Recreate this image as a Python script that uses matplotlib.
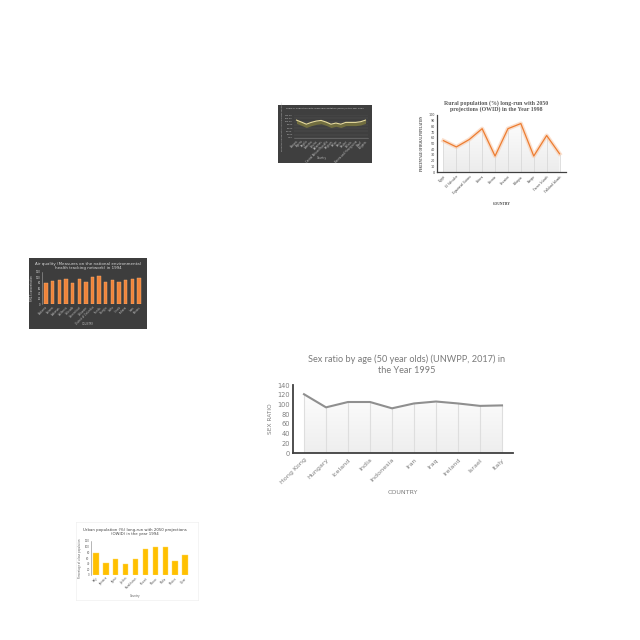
import matplotlib.pyplot as plt
import numpy as np
from matplotlib.colors import LinearSegmentedColormap

# ---- data ----
sex_countries = ['Hong Kong', 'Hungary', 'Iceland', 'India', 'Indonesia',
                 'Iran', 'Iraq', 'Ireland', 'Israel', 'Italy']
sex_ratio = [121, 94, 105, 105, 92, 102, 106, 102, 97, 98]

rural_countries = ['Egypt', 'El Salvador', 'Equatorial Guinea', 'Eritrea', 'Estonia',
                   'Eswatini', 'Ethiopia', 'Europe', 'Faeroe Islands', 'Falkland Islands']
rural_pct = [55, 44, 57, 76, 28, 76, 85, 28, 64, 32]

dark_countries = ['Albania', 'Algeria', 'Angola', 'Armenia', 'Austria', 'Bahamas',
                  'Central African Republic', 'Belgium', 'Belize', 'Benin', 'Bhutan',
                  'Bolivia', 'Bosnia and Herzegovina', 'Brazil', 'Bulgaria']
dark_values = [109, 97, 84, 95, 103, 107, 97, 84, 91, 84, 95, 95, 95, 99, 109]

air_states = ['Alabama', 'Arizona', 'Arkansas', 'California', 'Colorado', 'Connecticut',
              'Delaware', 'District of Columbia', 'Florida', 'Georgia', 'Idaho',
              'Illinois', 'Indiana', 'Iowa', 'Kansas']
air_values = [79, 87, 89, 95, 79, 93, 83, 101, 104, 83, 89, 83, 89, 92, 98]

urban_countries = ['Italy', 'Jamaica', 'Japan', 'Jordan', 'Kazakhstan', 'Kuwait',
                   'Macao', 'Malta', 'Mexico', 'Qatar']
urban_pct = [76, 41, 55, 38, 58, 92, 99, 99, 50, 71]

fig = plt.figure(figsize=(6.4, 6.4), dpi=100)
fig.patch.set_facecolor('white')


def rect(x0, y0, x1, y1):
    # pixel box -> figure fraction
    return [x0 / 640, 1 - y1 / 640, (x1 - x0) / 640, (y1 - y0) / 640]


def px(x, y):
    return x / 640, 1 - y / 640


def gradient_under(ax, x, y, ymax, top='#ffffff', bottom='#e8e8e8'):
    grad = np.linspace(0, 1, 100).reshape(-1, 1)
    cm = LinearSegmentedColormap.from_list('g', [top, bottom])
    im = ax.imshow(grad, aspect='auto', cmap=cm, extent=[-0.5, len(x) - 0.5, 0, ymax],
                   origin='upper', zorder=0)
    poly = ax.fill_between(x, 0, y, color='none')
    im.set_clip_path(poly.get_paths()[0], transform=ax.transData)


# ---- 1: sex ratio line chart ----
ax1 = fig.add_axes(rect(293, 385, 513, 453))
xs = np.arange(len(sex_countries))
gradient_under(ax1, xs, sex_ratio, 140, bottom='#eeeeee')
ax1.vlines(xs, 0, sex_ratio, color='#dedede', lw=0.8, zorder=1)
ax1.plot(xs, sex_ratio, color='#8f8f8f', lw=1.5, zorder=3)
ax1.set_xlim(-0.5, 9.5)
ax1.set_ylim(0, 140)
ax1.set_yticks(range(0, 141, 20))
ax1.tick_params(axis='y', length=0, labelsize=4.8, labelcolor='#7f7f7f', pad=2)
ax1.set_xticks(xs)
ax1.set_xticklabels(sex_countries, rotation=45, ha='right', rotation_mode='anchor',
                    fontsize=4.6, color='#7f7f7f')
ax1.tick_params(axis='x', length=0, pad=3)
for s in ['top', 'right']:
    ax1.spines[s].set_visible(False)
for s in ['left', 'bottom']:
    ax1.spines[s].set_color('#404040')
    ax1.spines[s].set_linewidth(1.3)
ax1.set_facecolor('none')
ax1.set_ylabel('SEX RATIO', fontsize=4.2, color='#7f7f7f', labelpad=3)
ax1.set_xlabel('COUNTRY', fontsize=4.6, color='#7f7f7f', labelpad=3)
fig.text(*px(407, 365), 'Sex ratio by age (50 year olds) (UNWPP, 2017) in\nthe Year 1995',
         ha='center', va='center', fontsize=6.6, color='#7a7a7a', family='Lato',
         linespacing=1.3)

# ---- 2: rural population line chart ----
ax2 = fig.add_axes(rect(437, 115, 566, 172))
xs = np.arange(len(rural_countries))
gradient_under(ax2, xs, rural_pct, 100, bottom='#ececec')
ax2.vlines(xs, 0, rural_pct, color='#d9d9d9', lw=0.6, zorder=1)
ax2.plot(xs, rural_pct, color='#f8cbad', lw=3, alpha=0.6, zorder=2)
ax2.plot(xs, rural_pct, color='#ed7d31', lw=0.9, zorder=3)
ax2.set_xlim(-0.5, 9.5)
ax2.set_ylim(0, 100)
ax2.set_yticks(range(0, 101, 10))
ax2.tick_params(axis='y', length=0, labelsize=2.4, labelcolor='#404040', pad=1.5)
ax2.set_xticks(xs)
ax2.set_xticklabels(rural_countries, rotation=45, ha='right', rotation_mode='anchor',
                    fontsize=2.4, color='#404040', family='Liberation Serif')
ax2.tick_params(axis='x', length=0, pad=2)
for s in ['top', 'right']:
    ax2.spines[s].set_visible(False)
for s in ['left', 'bottom']:
    ax2.spines[s].set_color('#404040')
    ax2.spines[s].set_linewidth(0.9)
ax2.set_facecolor('none')
ax2.set_ylabel('PERCENTAGE OF RURAL POPULATION', fontsize=2.2, color='#404040',
               family='Liberation Serif', fontweight='bold', labelpad=3)
ax2.set_xlabel('COUNTRY', fontsize=2.6, color='#404040', family='Liberation Serif',
               fontweight='bold', labelpad=5)
fig.text(*px(496, 106), 'Rural population (%) long-run with 2050\nprojections (OWID) in the Year 1998',
         ha='center', va='center', fontsize=4.2, color='#595959', family='Liberation Serif',
         fontweight='bold', linespacing=1.1)

# ---- 3: dark line chart ----
bg3 = fig.add_axes(rect(278, 105, 372, 163))
bg3.set_facecolor('#3f3f3f')
bg3.set_xticks([])
bg3.set_yticks([])
for s in bg3.spines.values():
    s.set_visible(False)
ax3 = fig.add_axes(rect(294, 115, 368, 138))
xs = np.arange(len(dark_countries))
dv = np.array(dark_values)
ax3.fill_between(xs, dv - 20, dv, color='#77733f', alpha=0.9, lw=0, zorder=2)
ax3.plot(xs, dv, color='#e8dc9c', lw=0.8, zorder=3)
ax3.set_xlim(-0.5, 14.5)
ax3.set_ylim(0, 140)
ax3.set_yticks(range(0, 141, 20))
ax3.set_yticklabels(['%.2f' % v for v in range(0, 141, 20)])
ax3.grid(axis='y', color='#5a5a5a', lw=0.3)
ax3.set_axisbelow(True)
ax3.tick_params(axis='y', length=0, labelsize=1.6, labelcolor='#bfbfbf', pad=1)
ax3.set_xticks(xs)
ax3.set_xticklabels(dark_countries, rotation=45, ha='right', rotation_mode='anchor',
                    fontsize=1.8, color='#bfbfbf')
ax3.tick_params(axis='x', length=0, pad=1)
for s in ax3.spines.values():
    s.set_visible(False)
ax3.spines['bottom'].set_visible(True)
ax3.spines['bottom'].set_color('#7f7f7f')
ax3.spines['bottom'].set_linewidth(0.4)
ax3.set_facecolor('none')
ax3.set_ylabel('Percentage of population using improved sanitation', fontsize=1.4,
               color='#bfbfbf', labelpad=1.5)
fig.text(*px(322, 158), 'Country', ha='center', va='center', fontsize=1.8, color='#bfbfbf')
fig.text(*px(325, 108), 'Share of population with improved sanitation (WHO) in the Year 2004',
         ha='center', va='center', fontsize=1.6, color='#d9d9d9')

# ---- 4: dark bar chart ----
bg4 = fig.add_axes(rect(29, 258, 147, 329))
bg4.set_facecolor('#3d3d3d')
bg4.set_xticks([])
bg4.set_yticks([])
for s in bg4.spines.values():
    s.set_visible(False)
ax4 = fig.add_axes(rect(42, 272, 143, 304))
xs = np.arange(len(air_states))
ax4.bar(xs, air_values, width=0.5, color='#f0843a', edgecolor='#f7b27a', lw=0.3, zorder=2)
ax4.set_xlim(-0.6, 14.6)
ax4.set_ylim(0, 120)
ax4.set_yticks(range(0, 121, 20))
ax4.tick_params(axis='y', length=0, labelsize=1.8, labelcolor='#d9d9d9', pad=1)
ax4.set_xticks(xs)
ax4.set_xticklabels(air_states, rotation=45, ha='right', rotation_mode='anchor',
                    fontsize=1.8, color='#bfbfbf')
ax4.tick_params(axis='x', length=0, pad=1)
for s in ax4.spines.values():
    s.set_visible(False)
ax4.spines['left'].set_visible(True)
ax4.spines['left'].set_color('#a6a6a6')
ax4.spines['left'].set_linewidth(0.4)
ax4.set_facecolor('none')
ax4.set_ylabel('PM2.5 concentration', fontsize=1.8, color='#d9d9d9', labelpad=1.5)
fig.text(*px(88, 324), 'COUNTRY', ha='center', va='center', fontsize=1.8, color='#bfbfbf')
fig.text(*px(88, 266), 'Air quality (Measures on the national environmental\nhealth tracking network) in 1994',
         ha='center', va='center', fontsize=2.9, color='#d9d9d9', linespacing=1.2)

# ---- 5: urban population bar chart ----
bg5 = fig.add_axes(rect(76, 522, 198, 600))
bg5.set_facecolor('white')
bg5.set_xticks([])
bg5.set_yticks([])
for s in bg5.spines.values():
    s.set_color('#ececec')
    s.set_linewidth(0.4)
ax5 = fig.add_axes(rect(91, 541, 190, 575))
xs = np.arange(len(urban_countries))
ax5.bar(xs, urban_pct, width=0.55, color='#ffc000', edgecolor='#ffd966', lw=0.3, zorder=2)
ax5.set_xlim(-0.5, 9.5)
ax5.set_ylim(0, 120)
ax5.set_yticks(range(0, 121, 20))
ax5.tick_params(axis='y', length=0, labelsize=1.9, labelcolor='#595959', pad=1)
ax5.set_xticks(xs)
ax5.set_xticklabels(urban_countries, rotation=45, ha='right', rotation_mode='anchor',
                    fontsize=1.9, color='#595959')
ax5.tick_params(axis='x', length=0, pad=1)
for s in ax5.spines.values():
    s.set_visible(False)
ax5.spines['left'].set_visible(True)
ax5.spines['left'].set_color('#7f7f7f')
ax5.spines['left'].set_linewidth(0.4)
ax5.set_ylabel('Percentage of urban population', fontsize=1.8, color='#595959', labelpad=2)
fig.text(*px(135, 596), 'Country', ha='center', va='center', fontsize=1.9, color='#595959')
fig.text(*px(135, 532), 'Urban population (%) long-run with 2050 projections\n(OWID) in the year 1994',
         ha='center', va='center', fontsize=2.8, color='#404040', linespacing=1.25)

plt.savefig('out.png', dpi=100)
